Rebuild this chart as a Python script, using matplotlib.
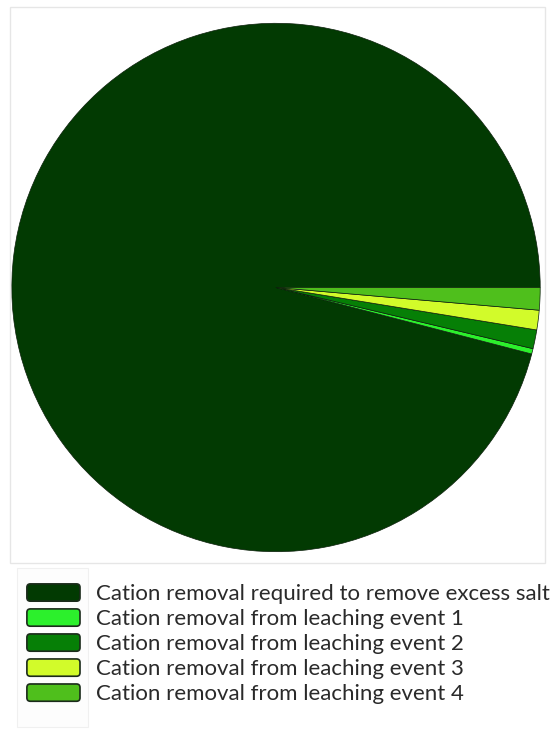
import matplotlib
matplotlib.use('Agg')
import matplotlib.pyplot as plt
from matplotlib.patches import Rectangle, FancyBboxPatch
from matplotlib.legend_handler import HandlerPatch

plt.rcParams['font.family'] = ['Lato', 'DejaVu Sans']

# share of total cation removal (%)
labels = [
    'Cation removal required to remove excess salt',
    'Cation removal from leaching event 1',
    'Cation removal from leaching event 2',
    'Cation removal from leaching event 3',
    'Cation removal from leaching event 4',
]
shares = [95.95, 0.33, 1.15, 1.20, 1.37]
colors = ['#023a02', '#2cf02c', '#067f06', '#d2fb2a', '#4fbf1c']

W, H = 552, 729
fig = plt.figure(figsize=(W / 100, H / 100), dpi=100)

def fbox(x0, y0, x1, y1):
    # pixel box (top-left origin) -> figure fraction rect
    return [x0 / W, 1 - y1 / H, (x1 - x0) / W, (y1 - y0) / H]

def add_frame(box, face, edge, lw):
    x, y, w, h = fbox(*box)
    fig.patches.append(Rectangle((x, y), w, h, transform=fig.transFigure,
                                 facecolor=face, edgecolor=edge, linewidth=lw))

# light outer frame around the pie, faint panel behind legend keys
add_frame((10, 7, 545, 563), 'none', '#e6e6e6', 1.0)
add_frame((17, 568, 88, 727), '#fdfdfd', '#f0f0f0', 0.8)

ax = fig.add_axes(fbox(11, 22.5, 541, 552.5))
wedges, _ = ax.pie(shares, colors=colors, startangle=0, counterclock=True,
                   radius=1.0, wedgeprops={'edgecolor': '#0b1f0b', 'linewidth': 0.5})
ax.set_xlim(-1.003, 1.003)
ax.set_ylim(-1.003, 1.003)
ax.set_aspect('equal')
ax.axis('off')


def rounded_key(legend, orig_handle, xdescent, ydescent, width, height, fontsize):
    return FancyBboxPatch((-xdescent, -ydescent), width, height,
                          boxstyle='round,pad=0,rounding_size=2.5')


keys = [FancyBboxPatch((0, 0), 1, 1, facecolor=w.get_facecolor(),
                       edgecolor='#1b2a1b', linewidth=1.2) for w in wedges]

leg = fig.legend(keys, labels, loc='upper left',
                 bbox_to_anchor=(18 / W, 1 - 575 / H),
                 frameon=False, fontsize=16, handlelength=2.39, handleheight=0.82,
                 handletextpad=0.72, labelspacing=0.21, borderaxespad=0,
                 handler_map={FancyBboxPatch: HandlerPatch(patch_func=rounded_key)})
for t in leg.get_texts():
    t.set_color('#2a2a2a')

fig.savefig('out.png', dpi=100, facecolor='white')
